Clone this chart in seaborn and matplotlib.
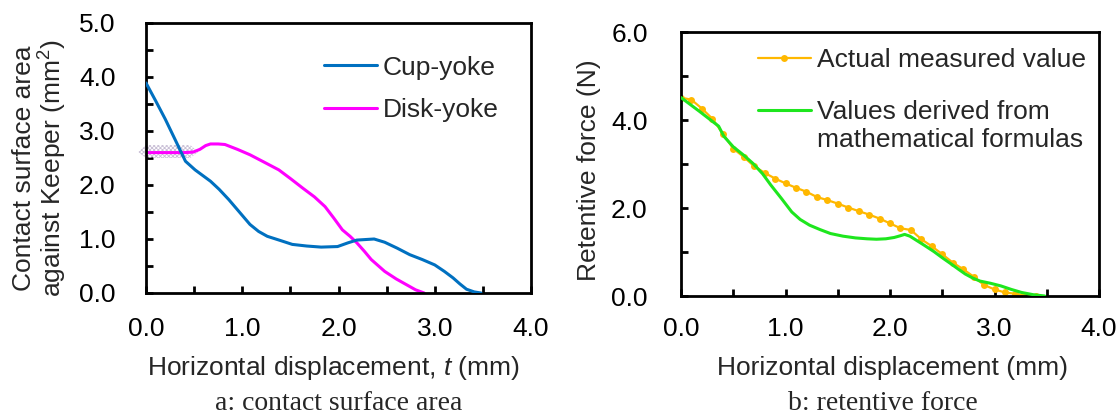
import matplotlib
matplotlib.use("Agg")
import matplotlib.pyplot as plt
import seaborn as sns
import pandas as pd
from matplotlib.ticker import MultipleLocator, FormatStrFormatter
from matplotlib.lines import Line2D

# ---------------- data: panel a (contact surface area) ----------------
cup_x = [0.00, 0.10, 0.20, 0.30, 0.41, 0.51, 0.67, 0.76, 0.86, 0.97, 1.08, 1.17, 1.26, 1.40,
         1.52, 1.67, 1.82, 1.99, 2.10, 2.19, 2.28, 2.37, 2.48, 2.61, 2.74, 2.87, 3.00, 3.10,
         3.19, 3.26, 3.33, 3.41, 3.48]
cup_y = [3.89, 3.56, 3.22, 2.85, 2.44, 2.28, 2.07, 1.92, 1.73, 1.50, 1.27, 1.14, 1.05, 0.97,
         0.90, 0.87, 0.85, 0.86, 0.93, 0.98, 0.99, 1.00, 0.94, 0.83, 0.71, 0.62, 0.52, 0.40,
         0.28, 0.17, 0.07, 0.02, 0.00]
disk_x = [0.00, 0.20, 0.40, 0.49, 0.56, 0.62, 0.67, 0.75, 0.82, 0.95, 1.08, 1.22, 1.38, 1.50,
          1.63, 1.75, 1.86, 1.95, 2.04, 2.12, 2.19, 2.27, 2.34, 2.41, 2.48, 2.60, 2.71, 2.80, 2.89]
disk_y = [2.60, 2.60, 2.60, 2.61, 2.66, 2.73, 2.76, 2.76, 2.75, 2.66, 2.56, 2.43, 2.28, 2.12,
          1.94, 1.78, 1.60, 1.39, 1.17, 1.05, 0.93, 0.77, 0.62, 0.51, 0.40, 0.26, 0.15, 0.06, 0.00]
# shaded (hatched) band around the Disk-yoke start
band_x = [-0.08, 0.00, 0.46, 0.54]
band_lo = [2.61, 2.50, 2.50, 2.61]
band_hi = [2.61, 2.74, 2.74, 2.61]

# ---------------- data: panel b (retentive force) ----------------
meas_x = [0.0, 0.1, 0.2, 0.3, 0.4, 0.5, 0.6, 0.7, 0.8, 0.9, 1.0, 1.1, 1.2, 1.3, 1.4, 1.5, 1.6,
          1.7, 1.8, 1.9, 2.0, 2.1, 2.2, 2.3, 2.4, 2.5, 2.6, 2.7, 2.8, 2.9, 3.0, 3.1, 3.2, 3.3, 3.4]
meas_y = [4.51, 4.46, 4.26, 4.03, 3.69, 3.35, 3.16, 2.95, 2.80, 2.67, 2.56, 2.46, 2.37, 2.25,
          2.18, 2.10, 2.01, 1.93, 1.85, 1.76, 1.65, 1.54, 1.50, 1.29, 1.13, 0.95, 0.76, 0.61,
          0.44, 0.25, 0.15, 0.08, 0.05, 0.01, 0.00]
form_x = [0.00, 0.18, 0.36, 0.41, 0.50, 0.60, 0.69, 0.78, 0.86, 0.96, 1.06, 1.14, 1.23, 1.33,
          1.43, 1.55, 1.67, 1.78, 1.87, 1.96, 2.04, 2.10, 2.14, 2.19, 2.25, 2.33, 2.42, 2.50,
          2.59, 2.66, 2.72, 2.79, 2.86, 2.96, 3.06, 3.16, 3.26, 3.37, 3.48]
form_y = [4.51, 4.19, 3.86, 3.63, 3.39, 3.20, 3.01, 2.78, 2.52, 2.22, 1.91, 1.74, 1.61, 1.51,
          1.42, 1.36, 1.32, 1.30, 1.29, 1.30, 1.33, 1.37, 1.40, 1.36, 1.27, 1.15, 1.01, 0.87,
          0.72, 0.60, 0.50, 0.41, 0.34, 0.29, 0.23, 0.15, 0.08, 0.03, 0.00]

# ---------------- labels ----------------
xlabel_a = "Horizontal displacement, $\\mathit{t}$ (mm)"
ylabel_a = "Contact surface area\nagainst Keeper (mm$^2$)"
xlabel_b = "Horizontal displacement (mm)"
ylabel_b = "Retentive force (N)"
caption_a = "a: contact surface area"
caption_b = "b: retentive force"
lab_cup, lab_disk = "Cup-yoke", "Disk-yoke"
lab_meas = "Actual measured value"
lab_form_1, lab_form_2 = "Values derived from", "mathematical formulas"

# ---------------- style ----------------
sns.set_style("ticks")
plt.rcParams["font.family"] = ["Liberation Sans", "DejaVu Sans"]
plt.rcParams["mathtext.fontset"] = "custom"
plt.rcParams["mathtext.rm"] = "Liberation Sans"
plt.rcParams["mathtext.it"] = "Liberation Sans:italic"
plt.rcParams["hatch.linewidth"] = 0.6
FS = 19

C_CUP, C_DISK = "#0070C0", "#FF00FF"
C_MEAS, C_FORM = "#FFB800", "#1EE61E"

fig = plt.figure(figsize=(11.19, 4.16), dpi=100)
ax1 = fig.add_axes([146 / 1119, (416 - 293) / 416, 385 / 1119, 270 / 416])
ax2 = fig.add_axes([681 / 1119, (416 - 296) / 416, 418 / 1119, 264 / 416])

df_cup = pd.DataFrame({"x": cup_x, "y": cup_y})
df_disk = pd.DataFrame({"x": disk_x, "y": disk_y})
df_meas = pd.DataFrame({"x": meas_x, "y": meas_y})
df_form = pd.DataFrame({"x": form_x, "y": form_y})

# panel a
ax1.fill_between(band_x, band_lo, band_hi, facecolor="none", edgecolor="#C9BFD6",
                 hatch="xxxxxxxx", linewidth=0, clip_on=False, zorder=1)
sns.lineplot(data=df_cup, x="x", y="y", ax=ax1, color=C_CUP, linewidth=2.2, zorder=3)
sns.lineplot(data=df_disk, x="x", y="y", ax=ax1, color=C_DISK, linewidth=2.2, zorder=2)

# panel b
sns.lineplot(data=df_meas, x="x", y="y", ax=ax2, color=C_MEAS, linewidth=1.6,
             marker="o", markersize=5, markeredgewidth=0, zorder=2)
sns.lineplot(data=df_form, x="x", y="y", ax=ax2, color=C_FORM, linewidth=2.2, zorder=3)

for ax, ymax, ymaj, ymin in [(ax1, 5.0, 1.0, 0.5), (ax2, 6.0, 2.0, 1.0)]:
    ax.set_xlim(0, 4.0)
    ax.set_ylim(0, ymax)
    ax.xaxis.set_major_locator(MultipleLocator(1.0))
    ax.xaxis.set_minor_locator(MultipleLocator(0.5))
    ax.yaxis.set_major_locator(MultipleLocator(ymaj))
    ax.yaxis.set_minor_locator(MultipleLocator(ymin))
    ax.xaxis.set_major_formatter(FormatStrFormatter("%.1f"))
    ax.yaxis.set_major_formatter(FormatStrFormatter("%.1f"))
    for s in ax.spines.values():
        s.set_linewidth(2.0)
        s.set_color("black")
        s.set_visible(True)
    ax.tick_params(which="both", direction="in", length=5, width=2.0, color="black",
                   top=False, right=False, labelsize=FS, labelcolor="black")
    ax.grid(False)

ax1.tick_params(axis="y", which="major", pad=22)
ax1.tick_params(axis="x", which="major", pad=17)
ax2.tick_params(axis="y", which="major", pad=24)
ax2.tick_params(axis="x", which="major", pad=15)

ax1.set_xlabel(xlabel_a, fontsize=FS, va="top")
ax1.set_ylabel(ylabel_a, fontsize=FS, linespacing=1.05)
ax1.xaxis.set_label_coords(0.486, -0.225)
ax1.yaxis.set_label_coords(-0.20, 0.463)
ax2.set_xlabel(xlabel_b, fontsize=FS, va="top")
ax2.set_ylabel(ylabel_b, fontsize=FS)
ax2.xaxis.set_label_coords(0.507, -0.228)
ax2.yaxis.set_label_coords(-0.191, 0.477)

# legends
h_cup = Line2D([], [], color=C_CUP, linewidth=2.2)
h_disk = Line2D([], [], color=C_DISK, linewidth=2.2)
ax1.legend([h_cup, h_disk], [lab_cup, lab_disk], loc="upper left",
           bbox_to_anchor=(0.462, 0.879), frameon=False, fontsize=FS,
           handlelength=2.0, handletextpad=0.23, labelspacing=0.70,
           borderpad=0, borderaxespad=0)

h_meas = Line2D([], [], color=C_MEAS, linewidth=1.6, marker="o", markersize=5,
                markeredgewidth=0)
h_form = Line2D([], [], color=C_FORM, linewidth=2.2)
ax2.legend([h_meas, h_form], [lab_meas, lab_form_1], loc="upper left",
           bbox_to_anchor=(0.184, 0.938), frameon=False, fontsize=FS,
           handlelength=2.0, handletextpad=0.23, labelspacing=1.04,
           borderpad=0, borderaxespad=0)
ax2.text(0.325, 0.591, lab_form_2, transform=ax2.transAxes, fontsize=FS,
         ha="left", va="center")

# captions
fig.text(339 / 1119, (416 - 410) / 416, caption_a, ha="center", va="baseline",
         fontsize=20, family=["Liberation Serif", "DejaVu Serif"])
fig.text(883 / 1119, (416 - 410) / 416, caption_b, ha="center", va="baseline",
         fontsize=20, family=["Liberation Serif", "DejaVu Serif"])

fig.savefig("out.png", dpi=100)
